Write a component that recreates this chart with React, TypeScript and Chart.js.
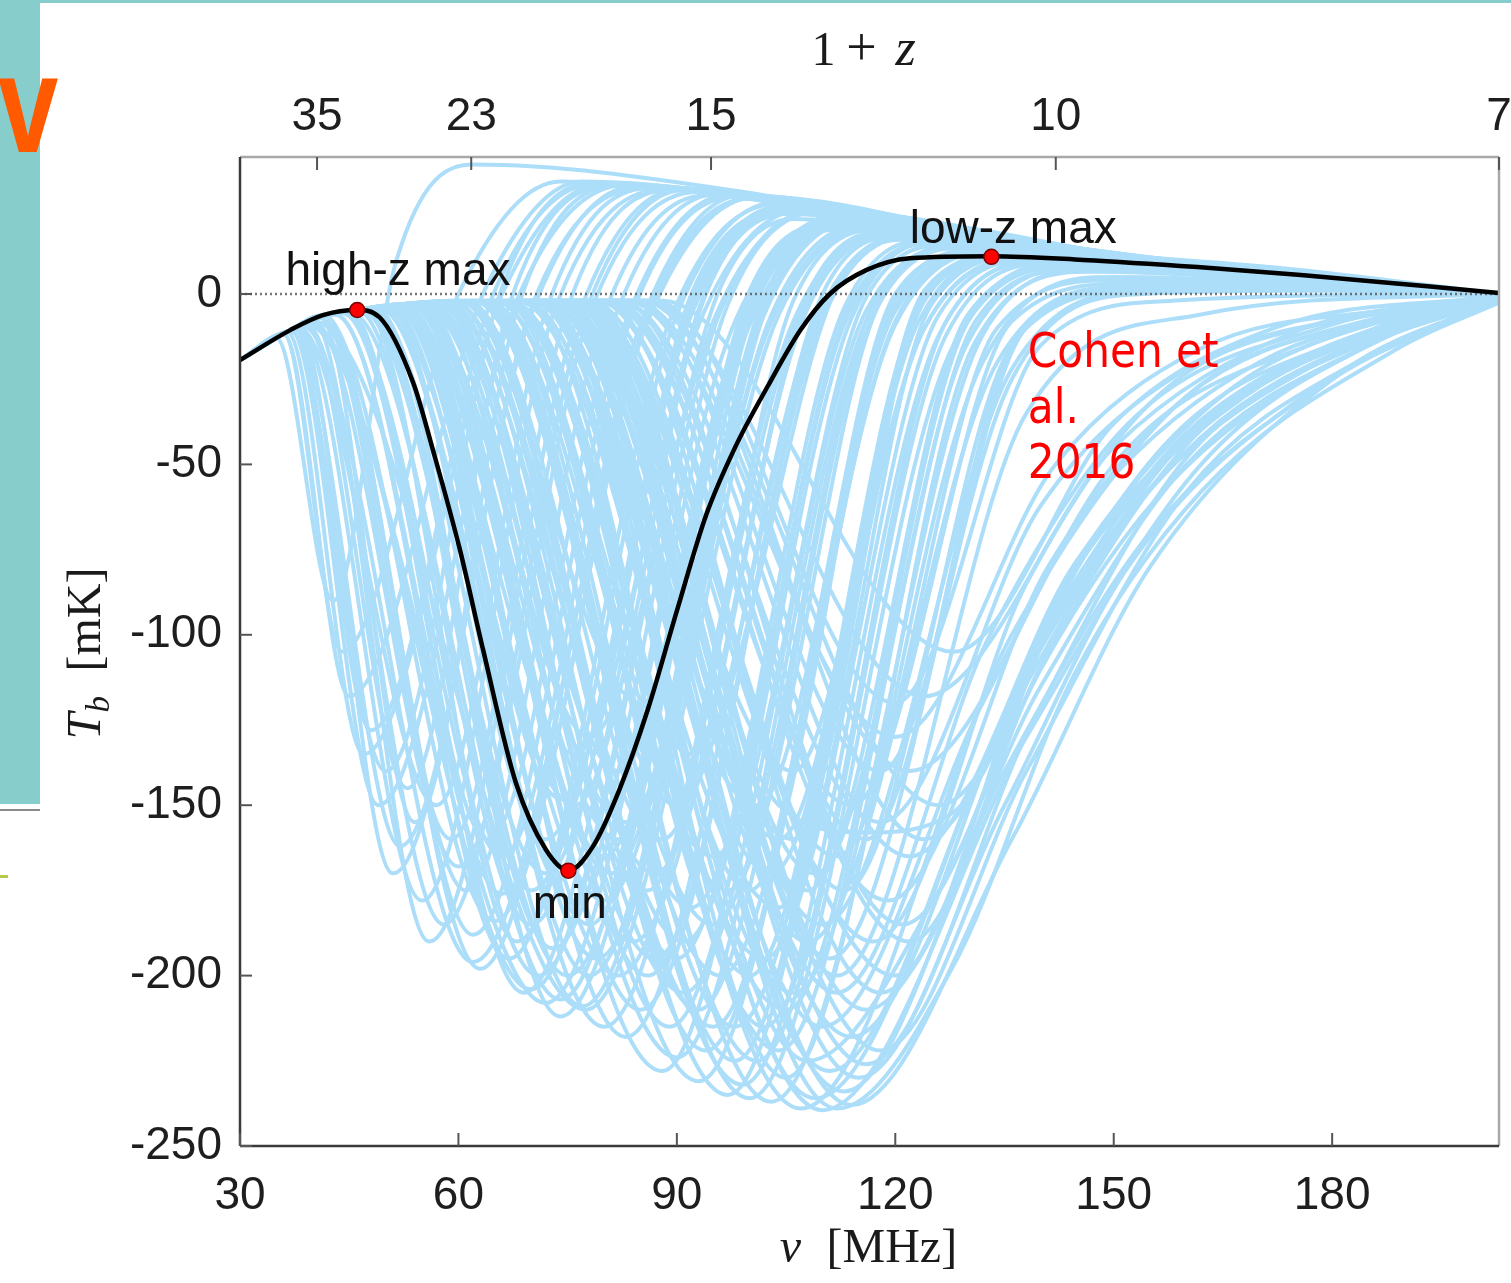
import React, { useEffect, useRef } from "react";
import { Chart, registerables } from "chart.js";

Chart.register(...registerables);

// ---------- axes ----------
const NU_21CM = 1420.4; // MHz, 1+z = NU_21CM / nu
const NU_MIN = 30;
const NU_MAX = NU_21CM / 7;
const TB_MIN = -250;
const TB_MAX = 40.2;

const nuTicks = [30, 60, 90, 120, 150, 180];
const tbTicks = [-250, -200, -150, -100, -50, 0];
const onePlusZTicks = [35, 23, 15, 10, 7];

// ---------- fiducial (black) curve: nu, Tb pairs ----------
const fiducial = [
  30, -19.4, 36.9, -10.6, 41.4, -6.2, 46.1, -4.7, 49.2, -6.9, 53.8, -26.1, 56.5, -45.8,
  60.2, -75, 63.4, -104.5, 67.9, -143.5, 72, -163, 75.1, -169.2, 78.5, -162, 82, -146,
  86, -122, 90, -93, 94, -65, 98, -45, 102.5, -27, 107, -10.5, 111, 0, 116, 7, 122, 10.5,
  133.2, 11.1, 145.8, 10, 161.5, 7.9, 175.7, 5.6, 202.9, 0.3,
];

// turning points of the fiducial model: high-z max, min, low-z max
const turningPoints = [46.1, -4.7, 75.1, -169.2, 133.2, 10.9];

// ---------- model ensemble (light blue): key points nu, Tb ----------
const earlyModels: number[][] = [
  [35, -13, 42.8, -90, 51.5, 10, 62, 38, 99, 30, 135, 15, 176, 7, 202.9, 0],
  [36, -11.8, 45, -118, 64, 3, 77, 33, 114, 24, 156, 10, 202.9, 0],
  [36.5, -11.3, 47, -135, 66, 0, 80, 32.5, 120, 21, 165, 8, 202.9, 0],
  [37, -10.9, 49, -150, 68, -2, 83, 32, 125, 19, 170, 7, 202.9, 0],
  [37.5, -10.3, 52, -162, 70, -4, 86, 31.5, 128, 18, 172, 6.5, 202.9, 0],
  [38, -9.8, 55, -178, 73, -6, 89, 31, 130, 17, 175, 6, 202.9, 0],
  [38.5, -9.3, 62, -196, 86, -8, 101, 28.5, 140, 14, 180, 5, 202.9, 0],
  [39, -8.8, 72, -208, 98, -8, 114, 23.5, 150, 11, 185, 4, 202.9, 0],
  [40, -7.9, 77.5, -210, 104, -6, 120, 21, 155, 10, 185, 4, 202.9, 0],
  [38, -9.8, 57, -150, 72, -5, 86, 31, 125, 18.5, 170, 6.5, 202.9, 0],
  [39, -8.8, 58, -185, 77, -8, 91, 30.5, 130, 16.5, 172, 6, 202.9, 0],
  [40, -7.9, 60, -168, 78, -6, 93, 30, 135, 15, 175, 6, 202.9, 0],
  [41, -7, 63, -198, 85, -9, 99, 29, 140, 13, 180, 5, 202.9, 0],
  [42, -6.5, 65, -184, 86, -7, 100, 28, 140, 12.5, 180, 4.5, 202.9, 0],
  [43, -6, 67, -195, 89, -8, 104, 26.5, 145, 12, 180, 4.5, 202.9, 0],
  [44, -5.6, 69, -205, 93, -9, 108, 25, 148, 11, 182, 4, 202.9, 0],
  [45, -5.3, 64, -160, 82, -4, 96, 29.5, 138, 14, 178, 5.5, 202.9, 0],
  [41, -7, 54, -155, 68, -5, 82, 32, 128, 17.5, 172, 6.5, 202.9, 0],
  [42, -6.5, 61, -175, 80, -6, 94, 29, 138, 13.5, 178, 5, 202.9, 0],
  [37, -10.9, 50, -140, 66, 2, 78, 32.5, 118, 22, 160, 9, 202.9, 0],
  [36, -11.8, 44, -105, 60, 0, 74, 33, 112, 24.5, 156, 10, 202.9, 0],
  [37.5, -10.3, 48, -128, 65, 1, 79, 32.5, 119, 21.5, 162, 8.5, 202.9, 0],
  [38, -9.8, 51, -170, 70, -6, 84, 31.5, 126, 18.5, 170, 7, 202.9, 0],
  [39, -8.8, 53, -145, 67, -3, 81, 32, 122, 20, 166, 7.5, 202.9, 0],
  [40, -7.9, 56, -190, 76, -9, 90, 30.5, 132, 16, 174, 6, 202.9, 0],
  [41, -7, 59, -160, 75, -4, 89, 30.5, 130, 16.5, 174, 6, 202.9, 0],
  [42, -6.5, 62, -188, 83, -8, 97, 29, 138, 14, 178, 5, 202.9, 0],
  [43, -6, 66, -176, 86, -6, 100, 28, 142, 13, 180, 5, 202.9, 0],
  [44, -5.6, 71, -200, 95, -8, 110, 24.5, 148, 11, 182, 4, 202.9, 0],
  [39.5, -8.3, 70, -204, 95, -9, 110, 24.5, 148, 11.5, 184, 4, 202.9, 0],
  [45, -5.3, 74, -207, 99, -8, 114, 23, 150, 10.5, 184, 4, 202.9, 0],
  [44.5, -5.4, 66, -165, 84, -5, 98, 28.5, 140, 13.5, 180, 5, 202.9, 0],
  [46, -4.8, 70, -185, 92, -6, 106, 26, 145, 12, 182, 4.5, 202.9, 0],
];

const midModels: number[][] = [
  [47, -4.5, 75, -200, 100, -6, 115, 23, 150, 11, 182, 4.5, 202.9, 0],
  [48, -4, 77, -209, 103, -8, 118, 21, 152, 10, 184, 4, 202.9, 0],
  [49, -4, 80, -215, 106, -8, 121, 19.5, 155, 9.5, 185, 4, 202.9, 0],
  [50, -3.5, 78, -185, 100, -4, 113, 23.5, 148, 11, 180, 4.5, 202.9, 0],
  [51, -3.5, 82, -200, 107, -5, 122, 19, 155, 9, 185, 3.5, 202.9, 0],
  [52, -3, 88, -228, 113, -9, 128, 16, 160, 8, 188, 3, 202.9, 0],
  [53, -3, 84, -190, 108, -4, 122, 18, 156, 8.5, 186, 3.5, 202.9, 0],
  [54, -3, 90, -224, 116, -8, 131, 15, 162, 7.5, 188, 3, 202.9, 0],
  [55, -3, 86, -175, 106, -2, 119, 19, 152, 9, 184, 3.5, 202.9, 0],
  [56, -2.5, 91, -205, 116, -5, 130, 14, 162, 7, 188, 3, 202.9, 0],
  [57, -2.5, 93, -231, 120, -9, 135, 12.5, 165, 6.5, 190, 2.5, 202.9, 0],
  [58, -2.5, 88, -160, 108, 0, 120, 18.5, 154, 8.5, 185, 3.5, 202.9, 0],
  [59, -2, 95, -215, 120, -5, 134, 12, 165, 6, 190, 2.5, 202.9, 0],
  [60, -2, 97, -235, 124, -10, 139, 10.5, 168, 5.5, 190, 2.5, 202.9, 0],
  [61, -2, 92, -180, 114, -2, 127, 15, 160, 7, 188, 3, 202.9, 0],
  [62, -2, 96, -200, 120, -4, 133, 12.5, 165, 6, 190, 2.5, 202.9, 0],
  [48, -4, 70, -175, 92, -4, 106, 26, 145, 12, 180, 5, 202.9, 0],
  [50, -3.5, 72, -160, 92, -2, 105, 25, 144, 11.5, 180, 4.5, 202.9, 0],
  [52, -3, 74, -148, 92, 0, 104, 24, 142, 11, 178, 4.5, 202.9, 0],
  [55, -3, 80, -165, 100, -2, 112, 22, 148, 10, 182, 4, 202.9, 0],
  [47, -4.5, 68, -190, 90, -6, 104, 27, 142, 13, 180, 5, 202.9, 0],
  [58, -2.5, 82, -140, 100, 1, 110, 20, 146, 9, 182, 3.5, 202.9, 0],
  [63, -2, 90, -150, 110, 0, 121, 17, 156, 7.5, 186, 3, 202.9, 0],
  [56, -2.5, 78, -130, 96, 2, 106, 22, 144, 10, 180, 4, 202.9, 0],
  [60, -2, 85, -120, 103, 3, 112, 19, 150, 8.5, 184, 3.5, 202.9, 0],
  [47.5, -4.3, 73, -192, 96, -5, 110, 25, 146, 11.5, 180, 4.5, 202.9, 0],
  [49, -4, 76, -178, 97, -3, 110, 24.5, 146, 11, 180, 4.5, 202.9, 0],
  [51, -3.5, 79, -195, 103, -6, 117, 21, 152, 10, 184, 4, 202.9, 0],
  [53, -3, 81, -170, 101, -2, 114, 22.5, 150, 10, 184, 4, 202.9, 0],
  [54, -3, 85, -210, 110, -7, 125, 17.5, 158, 8.5, 186, 3.5, 202.9, 0],
  [56, -2.5, 87, -195, 110, -4, 124, 17.5, 158, 8, 186, 3.5, 202.9, 0],
  [57, -2.5, 89, -215, 114, -7, 128, 16, 160, 7.5, 188, 3, 202.9, 0],
  [59, -2, 91, -190, 114, -3, 127, 15.5, 160, 7.5, 188, 3, 202.9, 0],
  [61, -2, 94, -222, 120, -8, 134, 12.5, 165, 6.5, 190, 2.5, 202.9, 0],
  [62, -2, 99, -232, 126, -12, 141, 9.5, 170, 5, 192, 2, 202.9, 0],
  [64, -2, 95, -165, 116, -1, 128, 14.5, 162, 7, 188, 3, 202.9, 0],
  [52, -3, 76, -135, 94, 1, 105, 23.5, 144, 10.5, 180, 4, 202.9, 0],
  [54, -3, 83, -155, 103, 0, 114, 21, 150, 9.5, 184, 3.5, 202.9, 0],
  [66, -2, 92, -135, 112, 2, 122, 16, 158, 7, 188, 3, 202.9, 0],
  [46.5, -4.6, 72, -170, 92, -3, 105, 26, 144, 12, 180, 4.5, 202.9, 0],
  [48.5, -4, 74, -212, 100, -9, 115, 22.5, 150, 10.5, 184, 4, 202.9, 0],
  [49.5, -3.8, 76, -150, 94, 0, 106, 25, 144, 11, 180, 4.5, 202.9, 0],
  [50.5, -3.6, 78, -200, 102, -6, 116, 22, 150, 10, 184, 4, 202.9, 0],
  [51.5, -3.4, 80, -178, 102, -4, 115, 22, 150, 10, 184, 4, 202.9, 0],
  [52.5, -3.2, 83, -218, 109, -8, 124, 17.5, 158, 8.5, 186, 3.5, 202.9, 0],
  [53.5, -3, 82, -160, 102, -1, 114, 21.5, 150, 9.5, 184, 3.5, 202.9, 0],
  [55.5, -2.8, 86, -200, 110, -5, 124, 17, 158, 8, 186, 3.5, 202.9, 0],
  [57.5, -2.5, 87, -170, 108, -2, 121, 18, 155, 8.5, 186, 3.5, 202.9, 0],
  [58.5, -2.3, 90, -195, 113, -4, 126, 16, 160, 7.5, 188, 3, 202.9, 0],
  [60.5, -2, 93, -210, 117, -6, 131, 14, 163, 7, 188, 3, 202.9, 0],
  [62.5, -2, 95, -185, 117, -3, 130, 14, 163, 7, 188, 3, 202.9, 0],
  [63.5, -2, 98, -225, 123, -9, 137, 11.5, 167, 6, 190, 2.5, 202.9, 0],
];

const lateModels: number[][] = [
  [63, -2, 100, -236, 128, -15, 145, 8, 172, 5, 202.9, 0],
  [65, -2, 103, -237, 132, -20, 150, 5, 178, 3, 202.9, 0],
  [66, -2, 105, -210, 130, -8, 144, 9, 172, 5.5, 202.9, 0],
  [64, -2, 98, -215, 124, -10, 139, 10, 168, 6, 202.9, 0],
  [66, -2, 102, -195, 126, -6, 140, 10, 170, 6, 202.9, 0],
  [68, -2, 104, -180, 125, -3, 138, 11, 168, 6.5, 202.9, 0],
  [70, -2, 106, -160, 124, 0, 136, 12, 166, 7, 202.9, 0],
  [72, -2, 100, -175, 120, -2, 132, 13, 164, 7, 202.9, 0],
  [76, -2, 112, -200, 138, -35, 162, -6, 202.9, 0],
  [74, -2, 108, -190, 134, -20, 152, 2, 180, 2, 202.9, 0],
  [65, -2, 101, -225, 127, -12, 142, 9, 170, 5.5, 202.9, 0],
  [67, -2, 104, -222, 130, -14, 146, 7.5, 174, 4.5, 202.9, 0],
  [69, -2, 106, -205, 132, -12, 147, 7, 174, 4.5, 202.9, 0],
  [71, -2, 103, -170, 124, -2, 136, 11.5, 166, 6.5, 202.9, 0],
  [73, -2, 108, -175, 130, -6, 144, 8, 172, 5, 202.9, 0],
  [75, -2, 110, -185, 136, -22, 155, 1, 180, 1.5, 202.9, 0],
  [77, -2, 112, -165, 134, -10, 150, 4, 176, 3, 202.9, 0],
  [79, -2, 114, -150, 136, -8, 152, 3, 178, 2.5, 202.9, 0],
  [65, -2, 97, -175, 118, -2, 130, 13.5, 163, 6.5, 188, 3, 202.9, 0],
  [67, -2, 100, -200, 123, -5, 136, 11.5, 166, 6, 190, 2.5, 202.9, 0],
  [69, -2, 102, -215, 127, -8, 141, 9.5, 170, 5, 202.9, 0],
  [71, -2, 105, -230, 131, -14, 147, 6.5, 174, 4, 202.9, 0],
  [70, -2, 101, -150, 120, 0, 132, 12.5, 164, 7, 202.9, 0],
  [73, -2, 104, -160, 124, -1, 137, 11, 167, 6, 202.9, 0],
  [75, -2, 106, -140, 124, 1, 135, 11, 166, 6, 202.9, 0],
  [77, -2, 109, -170, 131, -8, 145, 7, 173, 4.5, 202.9, 0],
  [78, -2, 111, -195, 136, -25, 154, 0, 180, 1, 202.9, 0],
  [80, -2, 113, -175, 136, -15, 152, 2, 178, 2, 202.9, 0],
  [81, -2, 116, -160, 137, -12, 153, 1.5, 180, 1.5, 202.9, 0],
  [84, -2, 118, -140, 138, -10, 154, 1, 180, 1, 202.9, 0],
  [87, -2, 120, -120, 140, -15, 158, -2, 202.9, 0],
];

const deepModels: number[][] = [
  [67, -2, 107, -239, 136, -100, 160, -30, 185, -8, 202.9, -1],
  [68, -2, 110, -239.5, 138, -130, 162, -50, 188, -12, 202.9, -2],
  [72, -2, 112, -239, 128, -197, 144.5, -112, 162, -58, 189, -16, 202.9, -2.5],
  [70, -2, 108, -225, 126, -175, 140, -110, 158, -55, 185, -15, 202.9, -2],
  [72, -2, 110, -215, 132, -120, 150, -50, 178, -14, 202.9, -1.5],
  [74, -2, 115, -230, 135, -150, 152, -80, 176, -30, 202.9, -2],
  [75, -2, 118, -222, 138, -140, 160, -58, 185, -18, 202.9, -2],
  [76, -2, 120, -200, 140, -100, 158, -42, 185, -11, 202.9, -1],
  [78, -2, 104, -150, 116, -158, 128, -152, 145, -80, 168, -30, 202.9, -1],
  [80, -2, 122, -190, 142, -95, 162, -42, 186, -12, 202.9, -1],
  [82, -2, 122, -165, 145, -78, 166, -32, 190, -7, 202.9, -1],
  [84, -2, 122, -140, 148, -58, 170, -20, 202.9, -1],
  [86, -2, 124, -118, 150, -45, 175, -11, 202.9, -1],
  [70, -2, 113, -234, 135, -140, 155, -70, 180, -25, 202.9, -2],
  [69, -2, 109, -236, 137, -115, 161, -40, 186, -10, 202.9, -1.5],
  [71, -2, 111, -228, 134, -130, 154, -60, 180, -18, 202.9, -2],
  [73, -2, 114, -218, 138, -110, 158, -45, 184, -12, 202.9, -1.5],
  [76, -2, 116, -210, 140, -115, 160, -50, 186, -14, 202.9, -1.5],
  [77, -2, 117, -190, 138, -85, 156, -30, 182, -7, 202.9, -1],
  [79, -2, 119, -178, 141, -80, 160, -30, 186, -7, 202.9, -1],
  [81, -2, 118, -155, 140, -62, 160, -22, 188, -5, 202.9, -0.5],
  [83, -2, 120, -130, 142, -50, 162, -16, 190, -4, 202.9, -0.5],
  [85, -2, 126, -150, 148, -70, 170, -26, 192, -6, 202.9, -1],
  [88, -2, 128, -105, 150, -38, 172, -10, 202.9, -0.5],
  [74, -2, 112, -205, 133, -100, 152, -38, 180, -9, 202.9, -1],
  [72, -2, 114, -238, 136, -160, 155, -80, 182, -22, 202.9, -2],
  [74, -2, 116, -226, 139, -125, 160, -48, 186, -13, 202.9, -1.5],
  [78, -2, 118, -205, 141, -105, 161, -42, 187, -10, 202.9, -1],
  [82, -2, 121, -185, 143, -90, 163, -36, 188, -9, 202.9, -1],
  [86, -2, 124, -160, 146, -75, 166, -28, 190, -6, 202.9, -1],
];

// ---------- annotations ----------
const pointLabels = [
  { text: "high-z max", nu: 51.7, tb: 2.6 },
  { text: "min", nu: 75.3, tb: -183 },
  { text: "low-z max", nu: 136.2, tb: 15 },
];
const creditLines = ["Cohen et", "al.", "2016"];
const creditNu = 138.2;
const creditTb = [-21.4, -37.9, -54];

// ---------- styles ----------
const SANS = '"Liberation Sans", Arial, Helvetica, sans-serif';
const SERIF = '"Liberation Serif", "Times New Roman", serif';
const BLUE = "rgb(172,222,250)";
const TEAL = "#86cdcc";

type Pt = { x: number; y: number };
const toPoints = (flat: number[]): Pt[] => {
  const out: Pt[] = [];
  for (let i = 0; i < flat.length; i += 2) out.push({ x: flat[i], y: flat[i + 1] });
  return out;
};
const withFiducialStart = (flat: number[]): Pt[] => {
  const start = flat[0];
  const pre = toPoints(fiducial).filter((p) => p.x <= 46.2 && p.x < start - 0.5);
  return [...pre, ...toPoints(flat)];
};

const slidePlugin = {
  id: "slide",
  beforeDraw(chart: any) {
    const { ctx, width, height } = chart;
    ctx.save();
    ctx.fillStyle = "#ffffff";
    ctx.fillRect(0, 0, width, height);
    ctx.fillStyle = TEAL;
    ctx.fillRect(0, 0, width, 3);
    ctx.fillRect(0, 0, 40, 804);
    ctx.fillStyle = "#8a8a8a";
    ctx.fillRect(0, 809, 40, 2);
    ctx.fillStyle = "#b5c94a";
    ctx.fillRect(0, 875, 8, 3);
    ctx.fillStyle = "#ff5a00";
    ctx.font = `bold 139px ${SANS}`;
    ctx.textBaseline = "alphabetic";
    ctx.textAlign = "left";
    ctx.translate(-2, 152);
    ctx.scale(0.78, 1);
    ctx.fillText("v", 0, 0);
    ctx.restore();
  },
};

const framePlugin = {
  id: "frame",
  afterDatasetsDraw(chart: any) {
    const { ctx, chartArea: a, scales } = chart;
    const seg = (x1: number, y1: number, x2: number, y2: number) => {
      ctx.beginPath();
      ctx.moveTo(x1, y1);
      ctx.lineTo(x2, y2);
      ctx.stroke();
    };
    ctx.save();
    ctx.lineWidth = 2.5;
    ctx.strokeStyle = "#a8a8a8";
    seg(a.left, a.top, a.right, a.top);
    seg(a.right, a.top, a.right, a.bottom);
    ctx.strokeStyle = "#3a3a3a";
    seg(a.left, a.top, a.left, a.bottom);
    seg(a.left, a.bottom, a.right, a.bottom);
    ctx.lineWidth = 2;
    ctx.strokeStyle = "#555555";
    scales.y.ticks.forEach((t: any) => {
      const py = scales.y.getPixelForValue(t.value);
      seg(a.left, py, a.left + 12, py);
    });
    scales.x.ticks.forEach((t: any) => {
      const px = scales.x.getPixelForValue(t.value);
      seg(px, a.bottom, px, a.bottom - 13);
    });
    scales.x2.ticks.forEach((t: any) => {
      const px = scales.x2.getPixelForValue(t.value);
      seg(px, a.top, px, a.top + 13);
    });
    ctx.restore();
  },
};

const textPlugin = {
  id: "texts",
  afterDraw(chart: any) {
    const { ctx, chartArea: a, scales } = chart;
    const x = scales.x;
    const y = scales.y;
    ctx.save();
    ctx.textBaseline = "alphabetic";
    ctx.fillStyle = "#111111";
    ctx.font = `46px ${SANS}`;
    ctx.textAlign = "center";
    pointLabels.forEach((l) => ctx.fillText(l.text, x.getPixelForValue(l.nu), y.getPixelForValue(l.tb)));

    ctx.fillStyle = "#ff0000";
    ctx.font = '48px "DejaVu Sans", Verdana, sans-serif';
    ctx.textAlign = "left";
    creditLines.forEach((line, i) => {
      ctx.save();
      ctx.translate(x.getPixelForValue(creditNu), y.getPixelForValue(creditTb[i]));
      ctx.scale(0.88, 1);
      ctx.fillText(line, 0, 0);
      ctx.restore();
    });

    const cx = (a.left + a.right) / 2;
    const cy = (a.top + a.bottom) / 2;
    ctx.fillStyle = "#1a1a1a";
    // top title: 1 + z
    const topBase = a.top - 92;
    ctx.textAlign = "center";
    ctx.font = `48px ${SERIF}`;
    ctx.fillText("1", cx - 46, topBase);
    ctx.font = `54px ${SERIF}`;
    ctx.fillText("+", cx - 8, topBase);
    ctx.font = `italic 52px ${SERIF}`;
    ctx.fillText("z", cx + 36, topBase);
    // bottom title: nu [MHz]
    const botBase = a.bottom + 116;
    ctx.font = `italic 48px ${SERIF}`;
    ctx.fillText("ν", cx - 79, botBase);
    ctx.textAlign = "left";
    ctx.font = `48px ${SERIF}`;
    ctx.fillText("[MHz]", cx - 43, botBase);
    // y title: T_b [mK]
    ctx.save();
    ctx.translate(a.left - 140, cy + 88);
    ctx.rotate(-Math.PI / 2);
    ctx.textAlign = "left";
    ctx.font = `italic 48px ${SERIF}`;
    ctx.fillText("T", 0, 0);
    ctx.font = `italic 33px ${SERIF}`;
    ctx.fillText("b", 27, 9);
    ctx.font = `48px ${SERIF}`;
    ctx.fillText("[mK]", 68, 0);
    ctx.restore();
    ctx.restore();
  },
};

export default function App() {
  const canvasRef = useRef<HTMLCanvasElement | null>(null);

  useEffect(() => {
    const canvas = canvasRef.current;
    if (!canvas) return;

    const ensemble = [...earlyModels, ...midModels, ...lateModels, ...deepModels];
    const blueSets = ensemble.map((m, i) => ({
      label: `model ${i + 1}`,
      data: withFiducialStart(m),
      borderColor: BLUE,
      borderWidth: 4,
      pointRadius: 0,
      cubicInterpolationMode: "monotone",
      fill: false,
      order: 4,
    }));

    const tickFont = { family: SANS, size: 46 };
    const noSidePadding = (s: any) => {
      s.paddingLeft = 0;
      s.paddingRight = 0;
    };

    const chart = new Chart(canvas, {
      type: "line",
      data: {
        datasets: [
          {
            label: "turning points",
            data: toPoints(turningPoints),
            showLine: false,
            pointRadius: 7.5,
            pointBackgroundColor: "#ff0000",
            pointBorderColor: "#7a0000",
            pointBorderWidth: 1.5,
            order: 1,
          },
          {
            label: "fiducial",
            data: toPoints(fiducial),
            borderColor: "#000000",
            borderWidth: 4.5,
            pointRadius: 0,
            cubicInterpolationMode: "monotone",
            fill: false,
            order: 2,
          },
          {
            label: "zero",
            data: [
              { x: NU_MIN, y: 0 },
              { x: NU_MAX, y: 0 },
            ],
            borderColor: "rgba(85,85,85,0.8)",
            borderWidth: 2.5,
            borderDash: [2, 3],
            pointRadius: 0,
            fill: false,
            order: 3,
          },
          ...blueSets,
        ] as any,
      },
      options: {
        animation: false,
        responsive: false,
        devicePixelRatio: 1,
        events: [],
        layout: { padding: { left: 0, top: 0, right: 12, bottom: 0 } },
        plugins: { legend: { display: false }, tooltip: { enabled: false } },
        scales: {
          x: {
            type: "linear",
            position: "bottom",
            min: NU_MIN,
            max: NU_MAX,
            grid: { display: false, drawTicks: false },
            border: { display: false },
            afterBuildTicks: (s: any) => {
              s.ticks = nuTicks.map((v) => ({ value: v }));
            },
            afterFit: (s: any) => {
              s.height = 137;
              noSidePadding(s);
            },
            ticks: {
              autoSkip: false,
              maxRotation: 0,
              padding: 23,
              color: "#1e1e1e",
              font: tickFont,
              callback: (v: any) => String(v),
            },
          },
          x2: {
            type: "linear",
            position: "top",
            min: NU_MIN,
            max: NU_MAX,
            grid: { display: false, drawTicks: false },
            border: { display: false },
            afterBuildTicks: (s: any) => {
              s.ticks = onePlusZTicks.map((z) => ({ value: NU_21CM / z }));
            },
            afterFit: (s: any) => {
              s.height = 157;
              noSidePadding(s);
            },
            ticks: {
              autoSkip: false,
              maxRotation: 0,
              padding: 12,
              color: "#1e1e1e",
              font: tickFont,
              callback: (_v: any, i: number) => String(onePlusZTicks[i]),
            },
          },
          y: {
            type: "linear",
            min: TB_MIN,
            max: TB_MAX,
            grid: { display: false, drawTicks: false },
            border: { display: false },
            afterBuildTicks: (s: any) => {
              s.ticks = tbTicks.map((v) => ({ value: v }));
            },
            afterFit: (s: any) => {
              s.width = 240;
            },
            ticks: {
              autoSkip: false,
              padding: 18,
              color: "#1e1e1e",
              font: tickFont,
              callback: (v: any) => String(v),
            },
          },
        },
      } as any,
      plugins: [slidePlugin, framePlugin, textPlugin],
    });

    return () => chart.destroy();
  }, []);

  return (
    <div style={{ position: "absolute", left: 0, top: 0, width: 1511, height: 1283 }}>
      <canvas ref={canvasRef} width={1511} height={1283} style={{ display: "block", width: 1511, height: 1283 }} />
    </div>
  );
}
